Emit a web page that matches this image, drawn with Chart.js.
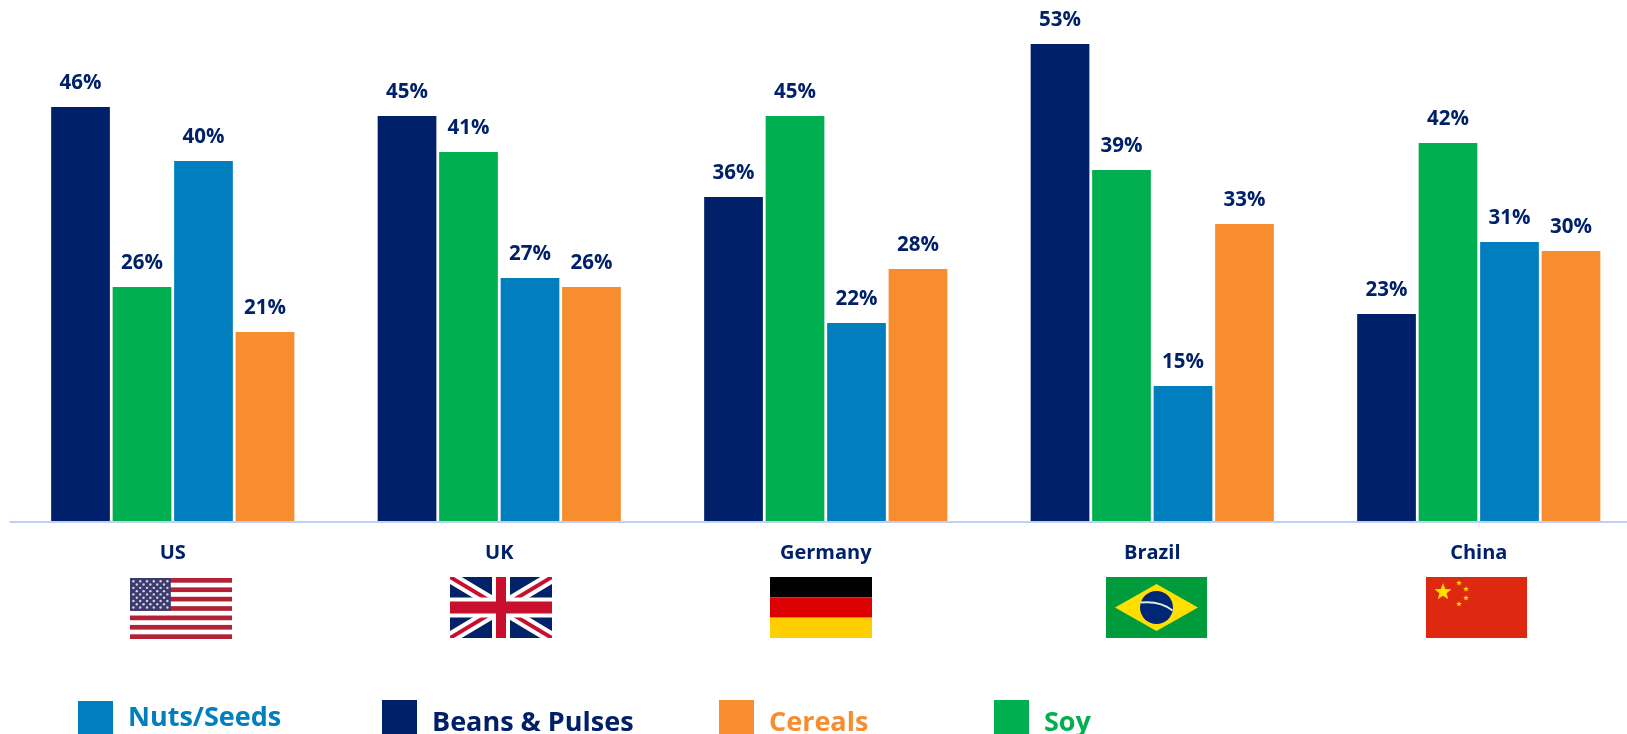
<!DOCTYPE html>
<html>
<head>
<meta charset="utf-8">
<title>Protein sources by country</title>
<script src="https://cdn.jsdelivr.net/npm/chart.js@4/dist/chart.umd.min.js"></script>
<style>
  html, body { margin: 0; padding: 0; background: #fff; overflow: hidden; }
  #stage { position: relative; width: 1627px; height: 734px; overflow: hidden; }
  #chart { position: absolute; left: 0; top: 0; }
  .swatch { position: absolute; top: 700px; width: 35px; height: 34px; }
  .legend-label { position: absolute; font: bold 27px/38px "Open Sans", sans-serif; white-space: nowrap; }
</style>
</head>
<body>
<div id="stage">
  <canvas id="chart" width="1642" height="734"></canvas>
  <div class="swatch" style="left:78px;top:701px;background:#007EBD"></div>
  <div class="legend-label" style="left:128px;top:697px;color:#007EBD">Nuts/Seeds</div>
  <div class="swatch" style="left:382px;background:#002169"></div>
  <div class="legend-label" style="left:432px;top:702px;color:#002169">Beans &amp; Pulses</div>
  <div class="swatch" style="left:719px;background:#F78D2F"></div>
  <div class="legend-label" style="left:769px;top:702px;color:#F78D2F">Cereals</div>
  <div class="swatch" style="left:994px;background:#00AF50"></div>
  <div class="legend-label" style="left:1044px;top:702px;color:#00AF50">Soy</div>
</div>
<script>
  "use strict";

  var countries = ["US", "UK", "Germany", "Brazil", "China"];
  var beansPulses = [46, 45, 36, 53, 23];
  var soy = [26, 41, 45, 39, 42];
  var nutsSeeds = [40, 27, 22, 15, 31];
  var cereals = [21, 26, 28, 33, 30];

  var NAVY = "#002169";
  var LABEL_FONT = 'bold 20.5px "Open Sans", sans-serif';

  /* ── Value labels above the bars ── */
  var valueLabels = {
    id: "valueLabels",
    afterDatasetsDraw: function (chart) {
      var ctx = chart.ctx;
      ctx.save();
      ctx.font = LABEL_FONT;
      ctx.fillStyle = NAVY;
      ctx.textAlign = "center";
      ctx.textBaseline = "middle";
      chart.data.datasets.forEach(function (ds, i) {
        chart.getDatasetMeta(i).data.forEach(function (bar, j) {
          ctx.fillText(ds.data[j] + "%", bar.x, bar.y - 24);
        });
      });
      ctx.restore();
    }
  };

  /* ── Baseline sits just under the bars ── */
  var baseline = {
    id: "baseline",
    afterDraw: function (chart) {
      var area = chart.chartArea;
      chart.ctx.fillStyle = "#BFD0F5";
      chart.ctx.fillRect(area.left, area.bottom, area.right - area.left, 2);
    }
  };

  /* ── Flags ── */
  function stripes(ctx, x, y, w, h, colors) {
    colors.forEach(function (c, i) {
      ctx.fillStyle = c;
      ctx.fillRect(x, y + h * i / colors.length, w, h / colors.length);
    });
  }

  function star(ctx, cx, cy, r, color) {
    ctx.fillStyle = color;
    ctx.beginPath();
    for (var i = 0; i < 10; i++) {
      var a = -Math.PI / 2 + i * Math.PI / 5;
      var d = i % 2 ? r * 0.42 : r;
      ctx.lineTo(cx + Math.cos(a) * d, cy + Math.sin(a) * d);
    }
    ctx.closePath();
    ctx.fill();
  }

  function flagUS(ctx, x, y, w, h) {
    var s = h / 13;
    ctx.fillStyle = "#fff";
    ctx.fillRect(x, y, w, h);
    ctx.fillStyle = "#B22234";
    for (var i = 0; i < 13; i += 2) ctx.fillRect(x, y + i * s, w, s);
    var cw = w * 0.4, ch = s * 7;
    ctx.fillStyle = "#3C3B6E";
    ctx.fillRect(x, y, cw, ch);
    ctx.fillStyle = "#D5D6E6";
    for (var r = 0; r < 9; r++) {
      var n = r % 2 ? 5 : 6;
      for (var c = 0; c < n; c++) {
        var sx = x + cw * (c + (r % 2 ? 1 : 0.5)) / 6;
        var sy = y + ch * (r + 1) / 10;
        ctx.beginPath();
        ctx.arc(sx, sy, 1.2, 0, Math.PI * 2);
        ctx.fill();
      }
    }
  }

  function flagUK(ctx, x, y, w, h) {
    ctx.save();
    ctx.beginPath();
    ctx.rect(x, y, w, h);
    ctx.clip();
    ctx.fillStyle = "#012169";
    ctx.fillRect(x, y, w, h);
    function diagonals(color, width) {
      ctx.strokeStyle = color;
      ctx.lineWidth = width;
      ctx.beginPath();
      ctx.moveTo(x, y); ctx.lineTo(x + w, y + h);
      ctx.moveTo(x + w, y); ctx.lineTo(x, y + h);
      ctx.stroke();
    }
    diagonals("#fff", 12);
    diagonals("#C8102E", 4);
    ctx.fillStyle = "#fff";
    ctx.fillRect(x + w / 2 - 9, y, 18, h);
    ctx.fillRect(x, y + h / 2 - 10, w, 20);
    ctx.fillStyle = "#C8102E";
    ctx.fillRect(x + w / 2 - 5, y, 10, h);
    ctx.fillRect(x, y + h / 2 - 6, w, 12);
    ctx.restore();
  }

  function flagDE(ctx, x, y, w, h) {
    stripes(ctx, x, y, w, h, ["#000000", "#DD0000", "#FFCE00"]);
  }

  function flagBR(ctx, x, y, w, h) {
    var cx = x + w / 2, cy = y + h / 2;
    ctx.fillStyle = "#009B3A";
    ctx.fillRect(x, y, w, h);
    ctx.fillStyle = "#FEDF00";
    ctx.beginPath();
    ctx.moveTo(cx, y + 7); ctx.lineTo(x + w - 9, cy);
    ctx.lineTo(cx, y + h - 7); ctx.lineTo(x + 9, cy);
    ctx.closePath();
    ctx.fill();
    ctx.fillStyle = "#002776";
    ctx.beginPath();
    ctx.arc(cx, cy, 16.5, 0, Math.PI * 2);
    ctx.fill();
    ctx.strokeStyle = "#DDEEDD";
    ctx.lineWidth = 2;
    ctx.beginPath();
    ctx.moveTo(cx - 16, cy - 5);
    ctx.quadraticCurveTo(cx + 4, cy - 7, cx + 16, cy + 3);
    ctx.stroke();
  }

  function flagCN(ctx, x, y, w, h) {
    ctx.fillStyle = "#DE2910";
    ctx.fillRect(x, y, w, h);
    star(ctx, x + 17, y + 15, 9, "#FFDE00");
    star(ctx, x + 33, y + 6, 3, "#FFDE00");
    star(ctx, x + 40, y + 12, 3, "#FFDE00");
    star(ctx, x + 40, y + 21, 3, "#FFDE00");
    star(ctx, x + 33, y + 27, 3, "#FFDE00");
  }

  var flags = {
    id: "flags",
    afterDraw: function (chart) {
      var ctx = chart.ctx;
      flagUS(ctx, 130, 578, 102, 61);
      flagUK(ctx, 450, 577, 102, 61);
      flagDE(ctx, 770, 577, 102, 61);
      flagBR(ctx, 1106, 577, 101, 61);
      flagCN(ctx, 1426, 577, 101, 61);
    }
  };

  function barSet(label, values, color) {
    return {
      label: label,
      data: values,
      backgroundColor: color,
      categoryPercentage: 0.7533,
      barPercentage: 0.955
    };
  }

  new Chart(document.getElementById("chart"), {
    type: "bar",
    data: {
      labels: countries,
      datasets: [
        barSet("Beans & Pulses", beansPulses, NAVY),
        barSet("Soy", soy, "#00AF50"),
        barSet("Nuts/Seeds", nutsSeeds, "#007EBD"),
        barSet("Cereals", cereals, "#F78D2F")
      ]
    },
    options: {
      responsive: false,
      animation: false,
      layout: { padding: { left: 9.5, right: 0, top: 0, bottom: 0 } },
      plugins: { legend: { display: false }, tooltip: { enabled: false } },
      scales: {
        x: {
          afterFit: function (scale) { scale.height = 213; },
          grid: { display: false, drawTicks: false },
          border: { display: false },
          ticks: {
            color: NAVY,
            padding: 20,
            maxRotation: 0,
            font: { family: '"Open Sans", sans-serif', size: 20, weight: "bold" }
          }
        },
        y: { display: false, min: 0, max: 57.9 }
      }
    },
    plugins: [valueLabels, baseline, flags]
  });
</script>
</body>
</html>
